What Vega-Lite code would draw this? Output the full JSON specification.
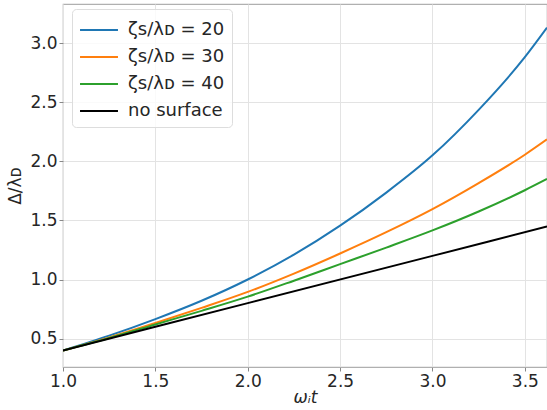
{
  "$schema": "https://vega.github.io/schema/vega-lite/v6.json",
  "width": 484,
  "height": 363,
  "autosize": {"type": "none"},
  "padding": {"left": 63, "top": 4, "right": 0, "bottom": 43},
  "background": "white",
  "config": {
    "font": "DejaVu Sans",
    "view": {"stroke": "#b0b0b0", "strokeWidth": 1.2},
    "axis": {
      "grid": true,
      "gridColor": "#e3e3e3",
      "gridWidth": 1,
      "domain": false,
      "tickColor": "#888888",
      "tickSize": 4,
      "labelFont": "DejaVu Sans",
      "labelFontSize": 17,
      "labelColor": "#262626",
      "labelPadding": 2,
      "labelFlush": false,
      "titleFont": "DejaVu Sans",
      "titleFontSize": 17,
      "titleFontWeight": "normal",
      "titleColor": "#262626"
    },
    "legend": {
      "labelFont": "DejaVu Sans",
      "labelFontSize": 18,
      "labelColor": "#262626"
    }
  },
  "data": {
    "values": [
      {"s": "ζꜱ/λᴅ = 20", "x": 1.0, "y": 0.4},
      {"s": "ζꜱ/λᴅ = 20", "x": 1.25, "y": 0.525},
      {"s": "ζꜱ/λᴅ = 20", "x": 1.5, "y": 0.665},
      {"s": "ζꜱ/λᴅ = 20", "x": 1.75, "y": 0.82},
      {"s": "ζꜱ/λᴅ = 20", "x": 2.0, "y": 1.0},
      {"s": "ζꜱ/λᴅ = 20", "x": 2.25, "y": 1.21},
      {"s": "ζꜱ/λᴅ = 20", "x": 2.5, "y": 1.455},
      {"s": "ζꜱ/λᴅ = 20", "x": 2.75, "y": 1.735},
      {"s": "ζꜱ/λᴅ = 20", "x": 3.0, "y": 2.05},
      {"s": "ζꜱ/λᴅ = 20", "x": 3.25, "y": 2.435},
      {"s": "ζꜱ/λᴅ = 20", "x": 3.5, "y": 2.88},
      {"s": "ζꜱ/λᴅ = 20", "x": 3.62, "y": 3.13},
      {"s": "ζꜱ/λᴅ = 30", "x": 1.0, "y": 0.4},
      {"s": "ζꜱ/λᴅ = 30", "x": 1.25, "y": 0.51},
      {"s": "ζꜱ/λᴅ = 30", "x": 1.5, "y": 0.632},
      {"s": "ζꜱ/λᴅ = 30", "x": 1.75, "y": 0.76},
      {"s": "ζꜱ/λᴅ = 30", "x": 2.0, "y": 0.895},
      {"s": "ζꜱ/λᴅ = 30", "x": 2.25, "y": 1.05},
      {"s": "ζꜱ/λᴅ = 30", "x": 2.5, "y": 1.22},
      {"s": "ζꜱ/λᴅ = 30", "x": 2.75, "y": 1.4},
      {"s": "ζꜱ/λᴅ = 30", "x": 3.0, "y": 1.595},
      {"s": "ζꜱ/λᴅ = 30", "x": 3.25, "y": 1.815},
      {"s": "ζꜱ/λᴅ = 30", "x": 3.5, "y": 2.055},
      {"s": "ζꜱ/λᴅ = 30", "x": 3.62, "y": 2.185},
      {"s": "ζꜱ/λᴅ = 40", "x": 1.0, "y": 0.4},
      {"s": "ζꜱ/λᴅ = 40", "x": 1.25, "y": 0.505},
      {"s": "ζꜱ/λᴅ = 40", "x": 1.5, "y": 0.62},
      {"s": "ζꜱ/λᴅ = 40", "x": 1.75, "y": 0.735},
      {"s": "ζꜱ/λᴅ = 40", "x": 2.0, "y": 0.855},
      {"s": "ζꜱ/λᴅ = 40", "x": 2.25, "y": 0.99},
      {"s": "ζꜱ/λᴅ = 40", "x": 2.5, "y": 1.13},
      {"s": "ζꜱ/λᴅ = 40", "x": 2.75, "y": 1.27},
      {"s": "ζꜱ/λᴅ = 40", "x": 3.0, "y": 1.415},
      {"s": "ζꜱ/λᴅ = 40", "x": 3.25, "y": 1.575},
      {"s": "ζꜱ/λᴅ = 40", "x": 3.5, "y": 1.755},
      {"s": "ζꜱ/λᴅ = 40", "x": 3.62, "y": 1.85},
      {"s": "no surface", "x": 1.0, "y": 0.4},
      {"s": "no surface", "x": 2.0, "y": 0.8},
      {"s": "no surface", "x": 3.0, "y": 1.2},
      {"s": "no surface", "x": 3.62, "y": 1.448}
    ]
  },
  "mark": {"type": "line", "strokeWidth": 2, "interpolate": "monotone", "clip": true},
  "encoding": {
    "x": {
      "field": "x",
      "type": "quantitative",
      "scale": {"domain": [1.0, 3.62], "nice": false, "zero": false},
      "axis": {"values": [1.0, 1.5, 2.0, 2.5, 3.0, 3.5], "format": ".1f", "title": "ωᵢt", "titleFontStyle": "italic", "titlePadding": 0}
    },
    "y": {
      "field": "y",
      "type": "quantitative",
      "scale": {"domain": [0.26, 3.33], "nice": false, "zero": false},
      "axis": {"values": [0.5, 1.0, 1.5, 2.0, 2.5, 3.0], "format": ".1f", "title": "Δ/λᴅ", "titlePadding": 5}
    },
    "color": {
      "field": "s",
      "type": "nominal",
      "scale": {
        "domain": ["ζꜱ/λᴅ = 20", "ζꜱ/λᴅ = 30", "ζꜱ/λᴅ = 40", "no surface"],
        "range": ["#1f77b4", "#ff7f0e", "#2ca02c", "#000000"]
      },
      "legend": {
        "title": null,
        "orient": "none",
        "legendX": 9,
        "legendY": 5,
        "symbolType": "M-1.5,0H1.5",
        "symbolSize": 640,
        "symbolStrokeWidth": 2,
        "symbolOffset": 6,
        "rowPadding": 4,
        "labelOffset": 15,
        "padding": 7,
        "fillColor": "rgba(255,255,255,0.8)",
        "strokeColor": "#dddddd",
        "cornerRadius": 4
      }
    }
  }
}
